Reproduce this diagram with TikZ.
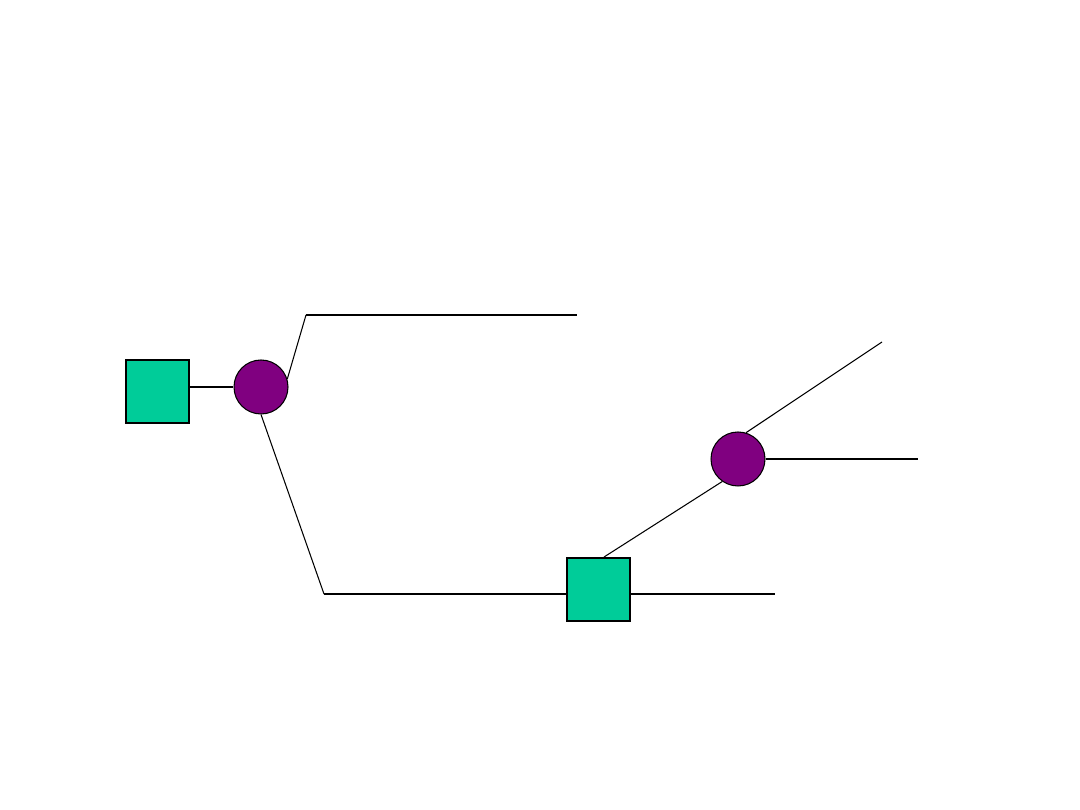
\documentclass[tikz,border=0pt]{standalone}
\usetikzlibrary{positioning}
\definecolor{glcgreen}{HTML}{00CC99}
\definecolor{galpurple}{HTML}{800080}

\begin{document}
\begin{tikzpicture}[
    x=0.02cm, y=-0.02cm,
    sqbox/.style={draw=black, fill=glcgreen, line width=1.1pt,
                  minimum size=1.26cm, inner sep=0pt},
    dot/.style={circle, draw=black, fill=galpurple, line width=0.6pt,
                minimum size=1.08cm, inner sep=0pt},
    bond/.style={line width=1.1pt},
    arm/.style={line width=0.6pt},
]
\useasboundingbox (0,0) rectangle (1080,810);

% ---- residues ----
\node[sqbox] (sq1) at (157.5, 391.5) {};
\node[dot]   (c1)  at (261, 387) {};
\node[sqbox] (sq2) at (598.5, 589.5) {};
\node[dot]   (c2)  at (738, 459) {};

% ---- bend points and free ends ----
\coordinate (up1)   at (306, 315);
\coordinate (upend) at (577, 315);
\coordinate (lo1)   at (324, 594);
\coordinate (sq2w)  at (567, 594);
\coordinate (sq2e)  at (630, 594);
\coordinate (loend) at (775, 594);
\coordinate (trend) at (882, 342);
\coordinate (rtend) at (918, 459);

% ---- connections ----
\draw[bond] (sq1.east |- c1) -- (c1.west);
\draw[arm]  (c1.17) -- (up1);
\draw[bond] (up1) -- (upend);
\draw[arm]  (c1.south) -- (lo1);
\draw[bond] (lo1) -- (sq2w);
\draw[bond] (sq2e) -- (loend);
\draw[arm]  ([xshift=0.11cm]sq2.north) -- (c2.235);
\draw[arm]  (c2.73) -- (trend);
\draw[bond] (c2.east) -- (rtend);
\end{tikzpicture}
\end{document}
